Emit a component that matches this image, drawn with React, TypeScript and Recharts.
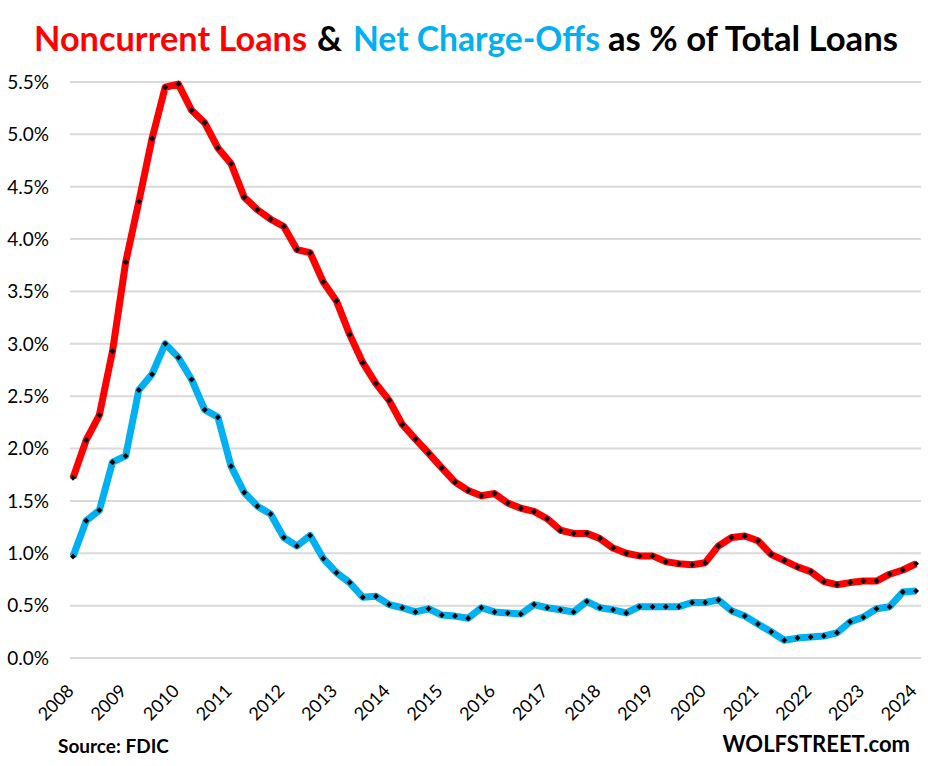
import { LineChart, Line, XAxis, YAxis, CartesianGrid } from "recharts";

// quarterly, Q1 2008 .. Q1 2024
const startYear = 2008;
const noncurrent = [
  1.72, 2.08, 2.32, 2.93, 3.78, 4.36, 4.96, 5.45, 5.48, 5.23, 5.11, 4.87, 4.72, 4.4, 4.28, 4.19,
  4.12, 3.9, 3.87, 3.59, 3.41, 3.09, 2.82, 2.62, 2.46, 2.23, 2.09, 1.955, 1.815, 1.68, 1.6, 1.55,
  1.57, 1.48, 1.43, 1.4, 1.33, 1.22, 1.19, 1.19, 1.14, 1.05, 1.0, 0.975, 0.975, 0.92, 0.9, 0.89,
  0.91, 1.07, 1.15, 1.165, 1.12, 0.99, 0.93, 0.87, 0.825, 0.73, 0.7, 0.72, 0.735, 0.735, 0.8, 0.84,
  0.9,
];
const chargeOffs = [
  0.97, 1.31, 1.41, 1.87, 1.93, 2.56, 2.71, 3.0, 2.87, 2.66, 2.37, 2.3, 1.83, 1.58, 1.45, 1.375,
  1.15, 1.07, 1.17, 0.95, 0.815, 0.72, 0.58, 0.59, 0.51, 0.48, 0.44, 0.47, 0.41, 0.4, 0.38, 0.48,
  0.44, 0.43, 0.42, 0.51, 0.48, 0.46, 0.44, 0.54, 0.48, 0.46, 0.43, 0.49, 0.49, 0.49, 0.49, 0.53,
  0.53, 0.555, 0.45, 0.4, 0.325, 0.25, 0.17, 0.19, 0.2, 0.21, 0.24, 0.345, 0.39, 0.47, 0.49, 0.63,
  0.64,
];
const yearTicks = [0, 4, 8, 12, 16, 20, 24, 28, 32, 36, 40, 44, 48, 52, 56, 60, 64];
const pctTicks = [0, 0.5, 1, 1.5, 2, 2.5, 3, 3.5, 4, 4.5, 5, 5.5];

const data = noncurrent.map((v, i) => ({ q: i, noncurrent: v, chargeOffs: chargeOffs[i] }));

const RED = "#FF0000";
const BLUE = "#00B0F0";
const FONT = "Lato, 'Open Sans', sans-serif";

// title pieces: text, colour, left x, width
const titleParts: [string, string, number, number][] = [
  ["Noncurrent Loans", RED, 34, 273],
  ["&", "#000", 317, 25],
  ["Net Charge-Offs", BLUE, 353, 247],
  ["as % of Total Loans", "#000", 608, 290],
];

function Diamond(props: any) {
  const { cx, cy, index } = props;
  if (cx == null || cy == null) return <g key={index} />;
  return <path key={index} d={`M${cx},${cy - 3}L${cx + 3},${cy}L${cx},${cy + 3}L${cx - 3},${cy}Z`} fill="#000" />;
}

function YearTick({ x, y, payload }: any) {
  return (
    <text
      transform={`translate(${x + 2},${y + 26}) rotate(-45)`}
      textAnchor="end"
      fontSize={18}
      fontFamily={FONT}
      fill="#000"
    >
      {startYear + payload.value / 4}
    </text>
  );
}

function PctTick({ y, payload }: any) {
  return (
    <text x={49} y={y} dy="0.36em" textAnchor="end" fontSize={19} fontFamily={FONT} fill="#000">
      {payload.value.toFixed(1)}%
    </text>
  );
}

export default function App() {
  return (
    <div style={{ position: "absolute", left: 0, top: 0, width: 928, height: 766, background: "#fff" }}>
      <LineChart width={928} height={766} data={data} margin={{ top: 82, right: 7, bottom: 48, left: 0 }}>
        <CartesianGrid vertical={false} stroke="#D9D9D9" strokeWidth={2} />
        <XAxis
          dataKey="q"
          type="number"
          domain={[0, 64]}
          ticks={yearTicks}
          interval={0}
          padding={{ left: 3, right: 5 }}
          axisLine={false}
          tickLine={false}
          height={60}
          tick={<YearTick />}
        />
        <YAxis domain={[0, 5.5]} ticks={pctTicks} width={70} axisLine={false} tickLine={false} tick={<PctTick />} />
        <Line
          type="linear"
          dataKey="noncurrent"
          stroke={RED}
          strokeWidth={7}
          strokeLinejoin="round"
          dot={Diamond}
          activeDot={false}
          isAnimationActive={false}
        />
        <Line
          type="linear"
          dataKey="chargeOffs"
          stroke={BLUE}
          strokeWidth={7}
          strokeLinejoin="round"
          dot={Diamond}
          activeDot={false}
          isAnimationActive={false}
        />
      </LineChart>
      <svg width={928} height={766} style={{ position: "absolute", left: 0, top: 0, pointerEvents: "none" }}>
        {titleParts.map(([t, c, x, w]) => (
          <text
            key={t}
            x={x}
            y={51}
            fill={c}
            fontSize={34}
            fontWeight={700}
            fontFamily={FONT}
            textLength={w}
            lengthAdjust="spacingAndGlyphs"
          >
            {t}
          </text>
        ))}
        <text x={58} y={753} fontSize={19} fontWeight={700} fontFamily={FONT} fill="#000">
          Source: FDIC
        </text>
        <text x={910} y={752} textAnchor="end" fontSize={22} fontWeight={700} fontFamily={FONT} fill="#000">
          WOLFSTREET.com
        </text>
      </svg>
    </div>
  );
}
